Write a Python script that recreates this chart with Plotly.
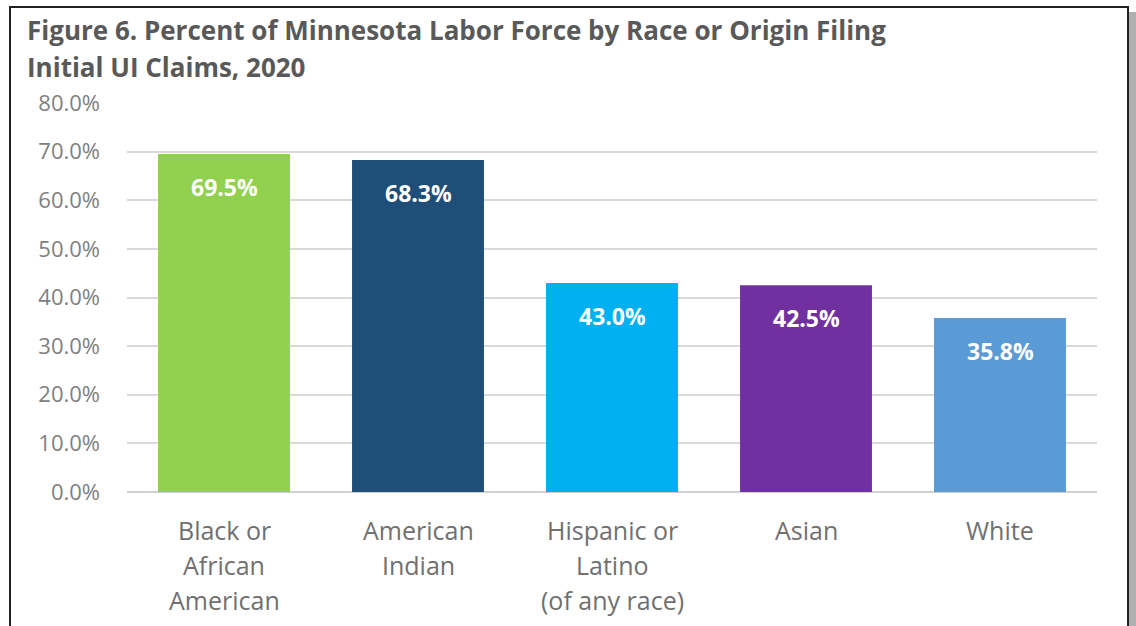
import plotly.graph_objects as go

# chart data
categories = ["Black or<br>African<br>American", "American<br>Indian",
              "Hispanic or<br>Latino<br>(of any race)", "Asian", "White"]
shares = [69.5, 68.3, 43.0, 42.5, 35.8]
bar_colors = ["#92D050", "#1F4E79", "#00B0F0", "#7030A0", "#5B9BD5"]
tick_vals = [0, 10, 20, 30, 40, 50, 60, 70, 80]
title_lines = ["Figure 6. Percent of Minnesota Labor Force by Race or Origin Filing",
               "Initial UI Claims, 2020"]

FONT = "Open Sans"
W, H = 1136, 626
L, R, T, B = 127, 39, 103, 134
pw, ph = W - L - R, H - T - B


def px_x(p):
    return (p - L) / pw


def px_y(p):
    return (H - B - p) / ph


fig = go.Figure(
    go.Bar(
        x=list(range(len(categories))),
        y=shares,
        marker=dict(color=bar_colors, line=dict(width=0)),
        width=0.68,
        hoverinfo="skip",
    )
)

annotations = []
for i, v in enumerate(shares):
    annotations.append(dict(
        x=i, y=v, xref="x", yref="y", text=f"{v:.1f}%", showarrow=False,
        yanchor="middle", yshift=-33,
        font=dict(family=FONT, size=23, color="white", weight="bold"),
    ))
    for j, line in enumerate(categories[i].split("<br>")):
        annotations.append(dict(
            x=i, y=0, xref="x", yref="paper", text=line, showarrow=False,
            yanchor="middle", yshift=-(38 + 35 * j),
            font=dict(family=FONT, size=25, color="#707070"),
        ))

for j, line in enumerate(title_lines):
    annotations.append(dict(
        x=px_x(25), y=px_y(30 + 37 * j), xref="paper", yref="paper",
        text=line, showarrow=False, xanchor="left", yanchor="middle",
        font=dict(family=FONT, size=26, color="#595959", weight="bold"),
    ))

shapes = [
    # drop shadow on the right
    dict(type="rect", xref="paper", yref="paper", layer="below",
         x0=px_x(1129), x1=px_x(1136), y0=px_y(12), y1=px_y(640),
         fillcolor="#b0b0b0", line=dict(width=0)),
    # frame
    dict(type="rect", xref="paper", yref="paper", layer="below",
         x0=px_x(10), x1=px_x(1128), y0=px_y(7), y1=px_y(640),
         fillcolor="white", line=dict(color="#222222", width=2)),
]

fig.update_layout(
    width=W, height=H,
    margin=dict(l=L, r=R, t=T, b=B, autoexpand=False),
    paper_bgcolor="white", plot_bgcolor="rgba(0,0,0,0)",
    showlegend=False,
    font=dict(family=FONT, color="#7f7f7f"),
    annotations=annotations,
    shapes=shapes,
    xaxis=dict(
        range=[-0.5, len(categories) - 0.5],
        showticklabels=False, showgrid=False, zeroline=False,
        fixedrange=True,
    ),
    yaxis=dict(
        range=[0, 80], tickvals=tick_vals,
        ticktext=[f"{t:.1f}%" for t in tick_vals],
        tickfont=dict(family=FONT, size=22, color="#808080"),
        ticklabelstandoff=26,
        showgrid=True, gridcolor="#d9d9d9", gridwidth=2,
        zeroline=True, zerolinecolor="#d0d0d0", zerolinewidth=2,
        fixedrange=True,
    ),
)

fig.write_html(
    "out.html",
    config={"displayModeBar": False},
    post_script="document.body.style.margin='0';document.body.style.overflow='hidden';",
)
